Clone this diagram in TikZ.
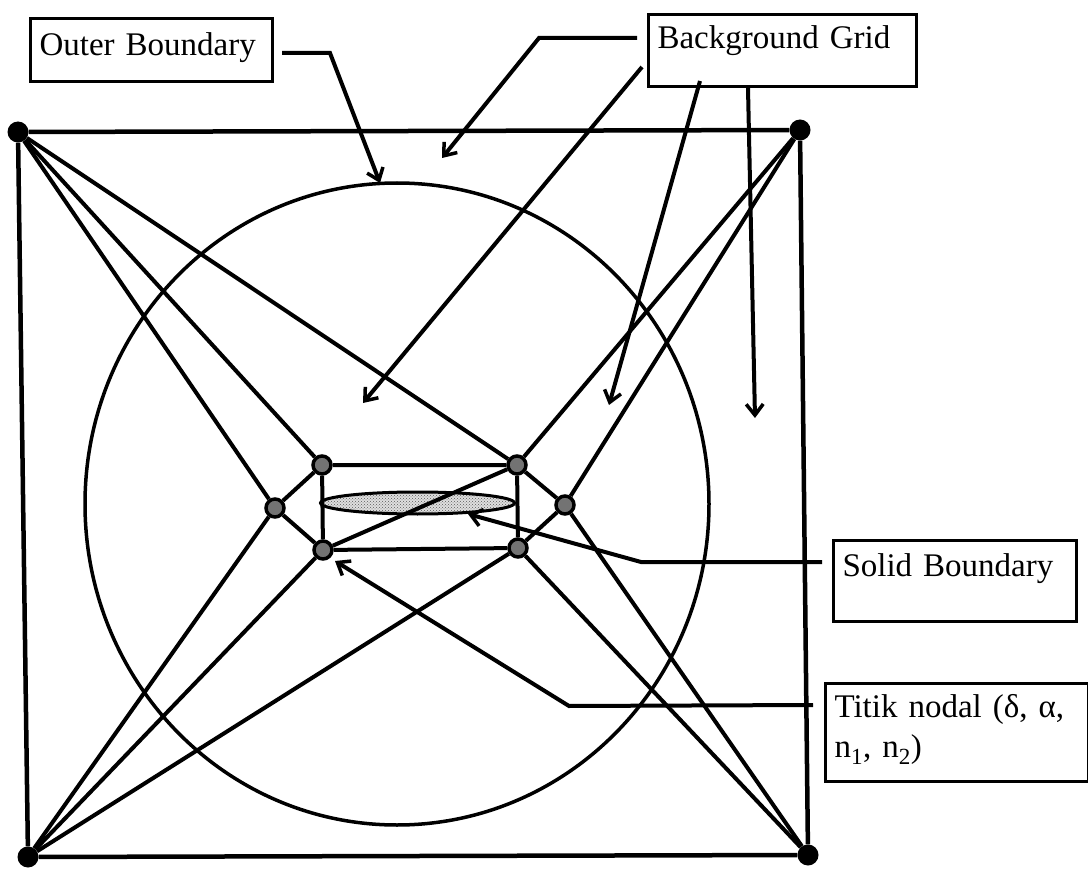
\documentclass[tikz,border=0pt]{standalone}
\usepackage{fontspec}
\setmainfont{Liberation Serif}
\usetikzlibrary{arrows.meta,patterns}

\tikzset{
  corner/.style={circle, fill=black, inner sep=0pt, minimum size=21pt},
  nodal/.style={circle, draw=black, fill=black!55, line width=3.5pt, inner sep=0pt, minimum size=18pt},
  edge/.style={line width=4pt},
  lbl/.style={draw, line width=3pt, anchor=north west, inner xsep=9pt, inner ysep=0pt,
    align=left, font=\fontsize{33}{40}\selectfont},
  ptr/.style={line width=4pt, -{Straight Barb[length=11pt,width=17pt,line width=3.5pt]}},
}

\begin{document}
\begin{tikzpicture}[x=1pt,y=-1pt]
\useasboundingbox (0,0) rectangle (1088,869);
% outer boundary circle
\draw[line width=3.5pt] (397,504) ellipse [x radius=312, y radius=321];
% solid boundary
\draw[line width=3pt, preaction={fill=gray!25}, pattern=crosshatch dots, pattern color=gray!70!black]
  (417.5,503) ellipse [x radius=97, y radius=11];
% corners of the background grid
\node[corner] (tl) at (18,132) {};
\node[corner] (tr) at (800,130) {};
\node[corner] (bl) at (28,857) {};
\node[corner] (br) at (808,855) {};
% nodal points
\node[nodal] (na) at (322,465) {};
\node[nodal] (nb) at (517,465) {};
\node[nodal] (nc) at (323,550) {};
\node[nodal] (nd) at (518,548) {};
\node[nodal] (ne) at (275,508) {};
\node[nodal] (nf) at (565,505) {};
% grid lines
\draw[edge, line width=4.5pt] (tl) -- (tr) -- (br) -- (bl) -- (tl);
\draw[edge] (tl) -- (ne);
\draw[edge] (tl) -- (na);
\draw[edge] (tl) -- (nb);
\draw[edge] (tr) -- (nb);
\draw[edge] (tr) -- (nf);
\draw[edge] (bl) -- (ne);
\draw[edge] (bl) -- (nc);
\draw[edge] (bl) -- (nd);
\draw[edge] (br) -- (nf);
\draw[edge] (br) -- (nd);
\draw[edge] (na) -- (nb) -- (nd) -- (nc) -- (na);
\draw[edge] (nc) -- (nb);
\draw[edge] (ne) -- (na);
\draw[edge] (ne) -- (nc);
\draw[edge] (nf) -- (nb);
\draw[edge] (nf) -- (nd);
% labels
\node[lbl, text width=224pt, text height=37pt, text depth=26pt] (outerbox) at (29,17) {Outer Boundary};
\node[lbl, text width=250pt, text height=34pt, text depth=38pt] (gridbox) at (647,13) {Background Grid};
\node[lbl, text width=225pt, text height=36pt, text depth=45pt] (solidbox) at (832,539) {Solid Boundary};
\node[lbl, text width=245pt, text height=34pt, text depth=64pt] (nodalbox) at (824,682)
  {Titik nodal (δ, α,\\ n\textsubscript{1}, n\textsubscript{2})};
% pointers
\coordinate (obbend) at (330,53);
\coordinate (obtip) at (380,183);
\coordinate (bgbend) at (539,38);
\coordinate (bgtip1) at (442,158);
\coordinate (bgtip2) at (363,403);
\coordinate (bgtip3) at (609,405);
\coordinate (bgtip4) at (755,418);
\coordinate (sbbend) at (641,562);
\coordinate (sbtip) at (468,514);
\coordinate (tnbend) at (569,706);
\coordinate (tntip) at (335,561);
\draw[ptr] ([shift={(8pt,-36pt)}]outerbox.north east) -- (obbend) -- (obtip);
\draw[ptr] ([shift={(-10pt,-25pt)}]gridbox.north west) -- (bgbend) -- (bgtip1);
\draw[ptr] ([shift={(-5pt,-54pt)}]gridbox.north west) -- (bgtip2);
\draw[ptr] ([shift={(53pt,7pt)}]gridbox.south west) -- (bgtip3);
\draw[ptr] ([xshift=101pt]gridbox.south west) -- (bgtip4);
\draw[ptr] ([shift={(-10pt,-23pt)}]solidbox.north west) -- (sbbend) -- (sbtip);
\draw[ptr] ([shift={(-11pt,-23pt)}]nodalbox.north west) -- (tnbend) -- (tntip);
\end{tikzpicture}
\end{document}
